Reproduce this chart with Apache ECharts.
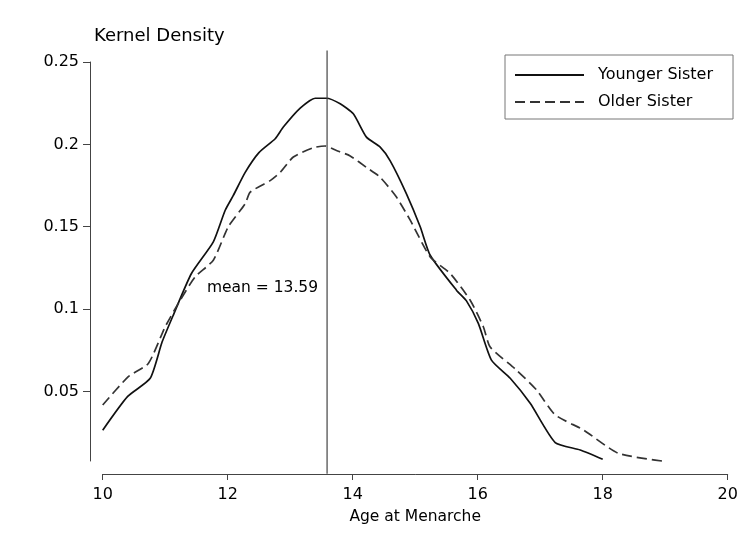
<!DOCTYPE html>
<html>
<head>
<meta charset="utf-8">
<script src="https://cdn.jsdelivr.net/npm/echarts@6/dist/echarts.min.js"></script>
<style>
  html, body { margin: 0; padding: 0; background: #fff; }
  #chart { width: 748px; height: 542px; }
</style>
</head>
<body>
<div id="chart"></div>
<script>
// kernel density curves
var youngerAge = [10.00, 10.40, 10.76, 10.95, 11.13, 11.42, 11.77, 11.96, 12.09, 12.28, 12.50,
  12.76, 12.89, 13.16, 13.40, 13.58, 13.80, 14.01, 14.22, 14.44, 14.60, 14.86, 15.08, 15.24,
  15.66, 15.82, 16.01, 16.22, 16.52, 16.84, 17.24, 17.64, 18.00];
var youngerDensity = [0.0265, 0.047, 0.058, 0.080, 0.0964, 0.1216, 0.1408, 0.160, 0.169, 0.183, 0.195,
  0.2034, 0.2105, 0.222, 0.228, 0.228, 0.2246, 0.2186, 0.2044, 0.1983, 0.190, 0.170, 0.150, 0.1327,
  0.1115, 0.105, 0.0913, 0.069, 0.058, 0.0428, 0.019, 0.0145, 0.0089];

var olderAge = [10.00, 10.41, 10.73, 11.00, 11.24, 11.48, 11.77, 12.01, 12.28, 12.36, 12.68, 12.84,
  13.05, 13.37, 13.56, 13.74, 13.96, 14.22, 14.44, 14.70, 14.92, 15.24, 15.56, 15.88, 16.09,
  16.20, 16.62, 16.94, 17.24, 17.69, 18.25, 19.00];
var olderDensity = [0.0418, 0.059, 0.067, 0.0893, 0.1054, 0.1196, 0.1297, 0.150, 0.164, 0.171, 0.178, 0.183,
  0.1923, 0.198, 0.199, 0.1963, 0.193, 0.186, 0.180, 0.168, 0.154, 0.1317, 0.1216, 0.1054, 0.0893,
  0.077, 0.063, 0.051, 0.0358, 0.0267, 0.0125, 0.0075];

var meanAge = 13.59;
var meanLineSpan = [0, 0.257];
var meanLabelY = 0.113;

var yTicks = [0.05, 0.1, 0.15, 0.2, 0.25];
var xTicks = [10, 12, 14, 16, 18, 20];

function pairs(xs, ys) {
  return xs.map(function(x, i) { return [x, ys[i]]; });
}

var font = 'DejaVu Sans';
var axisColor = '#444';

var chart = echarts.init(document.getElementById('chart'));
chart.setOption({
  animation: false,
  backgroundColor: '#fff',
  textStyle: { fontFamily: font, color: '#000' },
  grid: { left: 102.7, right: 20.3, top: 62, bottom: 81 },
  legend: {
    orient: 'vertical',
    left: 505,
    top: 55,
    padding: [12, 20, 9, 9],
    itemGap: 11,
    itemWidth: 69,
    itemHeight: 14,
    borderColor: '#777',
    borderWidth: 1,
    backgroundColor: '#fff',
    // hide the marker the line legend adds, keep the line sample
    itemStyle: { color: 'rgba(0,0,0,0)', borderWidth: 0 },
    textStyle: { fontFamily: font, fontSize: 16, color: '#000', padding: [0, 0, 0, 9] },
    data: ['Younger Sister', 'Older Sister']
  },
  xAxis: {
    type: 'value',
    min: xTicks[0],
    max: xTicks[xTicks.length - 1],
    interval: 2,
    offset: 13,
    name: 'Age at Menarche',
    nameLocation: 'middle',
    nameGap: 35,
    nameTextStyle: { fontFamily: font, fontSize: 15.5, color: '#000' },
    splitLine: { show: false },
    axisLine: { lineStyle: { color: axisColor, width: 1 } },
    axisTick: { length: 6, lineStyle: { color: axisColor } },
    axisLabel: { fontFamily: font, fontSize: 16, color: '#000', margin: 13 }
  },
  yAxis: {
    type: 'value',
    min: 0.0078,
    max: 0.25,
    offset: 12.7,
    name: 'Kernel Density',
    nameLocation: 'end',
    nameGap: 17,
    nameTextStyle: { fontFamily: font, fontSize: 18, color: '#000', align: 'left', padding: [0, 0, 0, 4] },
    splitLine: { show: false },
    axisLine: { show: true, lineStyle: { color: axisColor, width: 1 } },
    axisTick: { show: true, length: 7, customValues: yTicks, lineStyle: { color: axisColor } },
    axisLabel: { fontFamily: font, fontSize: 16, color: '#000', margin: 11, customValues: yTicks }
  },
  series: [
    {
      name: 'Younger Sister',
      type: 'line',
      data: pairs(youngerAge, youngerDensity),
      symbol: 'none',
      smooth: 0.2,
      lineStyle: { color: '#111', width: 1.7, type: 'solid' },
      itemStyle: { color: '#111' }
    },
    {
      name: 'Older Sister',
      type: 'line',
      data: pairs(olderAge, olderDensity),
      symbol: 'none',
      smooth: 0.2,
      lineStyle: { color: '#333', width: 1.7, type: [10, 5] },
      itemStyle: { color: '#333' }
    },
    {
      name: 'mean',
      type: 'line',
      data: [[meanAge, meanLineSpan[0]], [meanAge, meanLineSpan[1]]],
      symbol: 'none',
      clip: false,
      lineStyle: { color: '#444', width: 1.2 },
      markPoint: {
        symbol: 'circle',
        symbolSize: 0,
        data: [{ coord: [meanAge, meanLabelY] }],
        label: {
          show: true,
          position: 'left',
          distance: 9,
          fontFamily: font,
          fontSize: 15.5,
          color: '#000',
          formatter: 'mean = ' + meanAge.toFixed(2)
        }
      }
    }
  ]
});
</script>
</body>
</html>
